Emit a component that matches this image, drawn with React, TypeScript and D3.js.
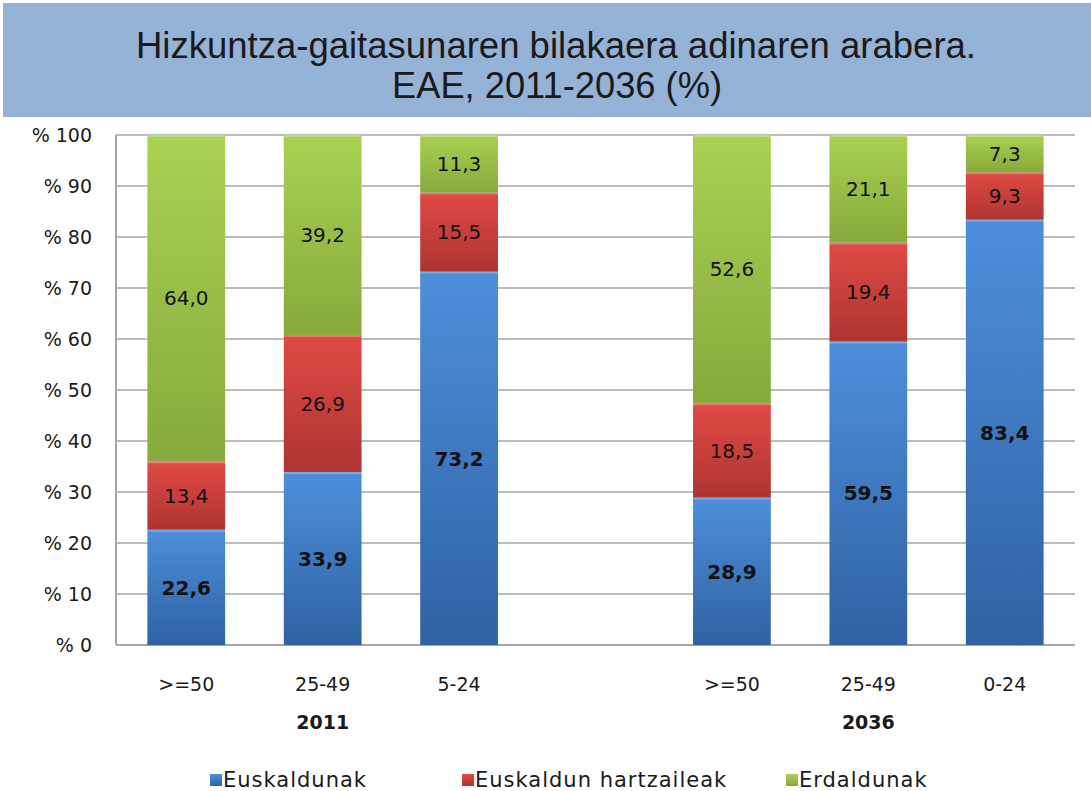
import React from "react";
import * as d3 from "d3";

const categories = ["2011|>=50", "2011|25-49", "2011|5-24", "gap", "2036|>=50", "2036|25-49", "2036|0-24"];
const ageLabels = [">=50", "25-49", "5-24", "", ">=50", "25-49", "0-24"];
const years = ["2011", "2036"];
const yearCenters = ["2011|25-49", "2036|25-49"];
const seriesNames = ["Euskaldunak", "Euskaldun hartzaileak", "Erdaldunak"];
const euskaldunak = [22.6, 33.9, 73.2, NaN, 28.9, 59.5, 83.4];
const hartzaileak = [13.4, 26.9, 15.5, NaN, 18.5, 19.4, 9.3];
const erdaldunak = [64.0, 39.2, 11.3, NaN, 52.6, 21.1, 7.3];
const yTicks = [0, 10, 20, 30, 40, 50, 60, 70, 80, 90, 100];

const W = 1091;
const H = 791;
const M = { left: 116, right: 1075, top: 135, bottom: 645 };

const colorsTop = ["#4d8edb", "#e04a46", "#a9d152"];
const colorsBot = ["#2f62a2", "#ae3431", "#88a93c"];

export default function App() {
  const x = d3.scaleBand<string>().domain(categories).range([M.left, M.right]).paddingInner(0.43).paddingOuter(0.23);
  const y = d3.scaleLinear().domain([0, 100]).range([M.bottom, M.top]);
  const seriesData = [euskaldunak, hartzaileak, erdaldunak];
  const rows = categories.map((c, i) => ({ cat: c, s0: euskaldunak[i], s1: hartzaileak[i], s2: erdaldunak[i] }));
  const stack = d3.stack<any>().keys(["s0", "s1", "s2"]).value((d, k) => (isNaN(d[k]) ? 0 : d[k]));
  const stacked = stack(rows.filter((r) => r.cat !== "gap"));
  const fmt = (v: number) => v.toFixed(1).replace(".", ",");
  const font = "'DejaVu Sans', Verdana, sans-serif";
  const titleFont = "'Liberation Sans', Arial, sans-serif";

  const legendX = [210, 462, 786];

  return (
    <svg width={W} height={H} style={{ position: "absolute", left: 0, top: 0, background: "#fff" }}>
      <defs>
        {colorsTop.map((c, i) => (
          <linearGradient key={i} id={`g${i}`} x1="0" y1="0" x2="0" y2="1">
            <stop offset="0" stopColor={c} />
            <stop offset="1" stopColor={colorsBot[i]} />
          </linearGradient>
        ))}
      </defs>
      <rect x={3} y={3} width={W - 3} height={114} fill="#95b3d7" />
      <text x={556} y={58} textAnchor="middle" fontFamily={titleFont} fontSize={37} fill="#1a1a1a" textLength={840} lengthAdjust="spacingAndGlyphs">
        Hizkuntza-gaitasunaren  bilakaera adinaren arabera.
      </text>
      <text x={557} y={98} textAnchor="middle" fontFamily={titleFont} fontSize={37} fill="#1a1a1a" textLength={330} lengthAdjust="spacingAndGlyphs">
        EAE, 2011-2036 (%)
      </text>

      {yTicks.map((t) => (
        <g key={t}>
          {t > 0 && <line x1={M.left} x2={M.right} y1={y(t)} y2={y(t)} stroke="#a6a6a6" strokeWidth={1.5} />}
          <text x={92} y={y(t)} dy="0.35em" textAnchor="end" fontFamily={font} fontSize={19} fill="#1a1a1a">
            {`% ${t}`}
          </text>
        </g>
      ))}
      <line x1={M.left} x2={M.left} y1={M.top} y2={M.bottom} stroke="#a6a6a6" strokeWidth={2} />
      <line x1={M.left} x2={M.right} y1={M.bottom} y2={M.bottom} stroke="#a6a6a6" strokeWidth={2} />

      {stacked.map((layer, si) => (
        <g key={si}>
          {layer.map((d: any, j: number) => {
            const cat = d.data.cat as string;
            const bx = x(cat)!;
            const bw = x.bandwidth();
            const y0 = y(d[0]);
            const y1 = y(d[1]);
            const idx = categories.indexOf(cat);
            const v = seriesData[si][idx];
            return (
              <g key={j}>
                <rect x={bx} y={y1} width={bw} height={y0 - y1} fill={`url(#g${si})`} />
                <rect x={bx} y={y1} width={bw} height={2} fill="#ffffff" opacity={0.25} />
                <text x={bx + bw / 2} y={(y0 + y1) / 2} dy="0.36em" textAnchor="middle" fontFamily={font} fontSize={20} fontWeight={si === 0 ? "bold" : "normal"} fill="#111">
                  {fmt(v)}
                </text>
              </g>
            );
          })}
        </g>
      ))}

      {categories.map((c, i) => (
        <text key={c} x={x(c)! + x.bandwidth() / 2} y={684} dy="0.35em" textAnchor="middle" fontFamily={font} fontSize={19} fill="#1a1a1a">
          {ageLabels[i]}
        </text>
      ))}
      {years.map((yr, i) => (
        <text key={yr} x={x(yearCenters[i])! + x.bandwidth() / 2} y={722} dy="0.35em" textAnchor="middle" fontFamily={font} fontSize={19} fontWeight="bold" fill="#1a1a1a">
          {yr}
        </text>
      ))}

      {seriesNames.map((s, i) => (
        <g key={s}>
          <rect x={legendX[i]} y={774} width={12} height={12} fill={`url(#g${i})`} />
          <text x={legendX[i] + 13} y={780} dy="0.35em" fontFamily={font} fontSize={21} fill="#1a1a1a" letterSpacing={1}>
            {s}
          </text>
        </g>
      ))}
    </svg>
  );
}
